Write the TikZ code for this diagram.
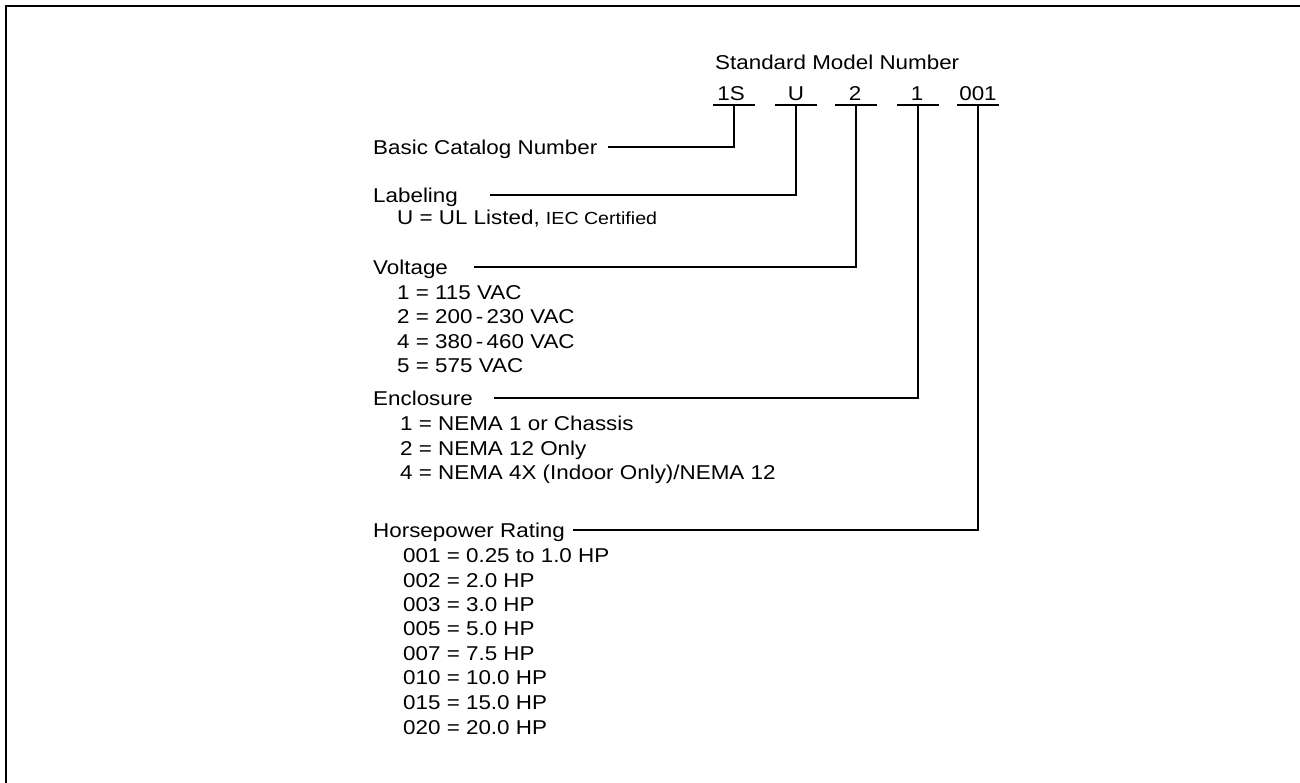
\documentclass[tikz,border=0pt]{standalone}
\usepackage{fontspec}
\setmainfont{Liberation Sans}[FakeStretch=1.12]
\begin{document}
\begin{tikzpicture}[x=1pt,y=-1pt,
  txt/.style={inner sep=0pt, anchor=west, text height=14.3pt, text depth=0pt,
    font=\fontsize{20}{24.5}\selectfont},
  code/.style={txt, anchor=center},
  conn/.style={line width=1.1pt},
  frame/.style={line width=2.2pt}]
\useasboundingbox (0,0) rectangle (1300,783);
% frame (open at right and bottom)
\draw[frame] (6,783) -- (6,6) -- (1300,6);

% header
\node[txt] (std) at (715,62) {Standard Model Number};
\node[code] (c1) at (731,93) {1S};
\node[code] (c2) at (796,93) {U};
\node[code] (c3) at (855,93) {2};
\node[code] (c4) at (917,93) {1};
\node[code] (c5) at (978,93) {001};

\coordinate (u1) at (734,105);
\coordinate (u2) at (796,105);
\coordinate (u3) at (856,105);
\coordinate (u4) at (918,105);
\coordinate (u5) at (978,105);
\foreach \u in {u1,u2,u3,u4,u5}
  \draw[conn] ([xshift=-21pt]\u) -- ([xshift=21pt]\u);

% fields
\node[txt] (bcn) at (373,147) {Basic Catalog Number};

\node[txt] (lab) at (373,195) {Labeling};
\node[txt] (lab1) at (397,217) {U = UL Listed, {\fontsize{17.5}{20}\selectfont IEC Certified}};

\node[txt] (volt) at (373,267) {Voltage};
\node[txt] (v1) at (397,292) {1 = 115 VAC};
\node[txt] (v2) at (397,316) {2 = 200\,-\,230 VAC};
\node[txt] (v3) at (397,341) {4 = 380\,-\,460 VAC};
\node[txt] (v4) at (397,365) {5 = 575 VAC};

\node[txt] (encl) at (373,398) {Enclosure};
\node[txt] (e1) at (400,423) {1 = NEMA 1 or Chassis};
\node[txt] (e2) at (400,448) {2 = NEMA 12 Only};
\node[txt] (e3) at (400,472) {4 = NEMA 4X (Indoor Only)/NEMA 12};

\node[txt] (hp) at (373,530) {Horsepower Rating};
\node[txt] (h1) at (403,555) {001 = 0.25 to 1.0 HP};
\node[txt] (h2) at (403,580) {002 = 2.0 HP};
\node[txt] (h3) at (403,604) {003 = 3.0 HP};
\node[txt] (h4) at (403,628) {005 = 5.0 HP};
\node[txt] (h5) at (403,653) {007 = 7.5 HP};
\node[txt] (h6) at (403,677) {010 = 10.0 HP};
\node[txt] (h7) at (403,702) {015 = 15.0 HP};
\node[txt] (h8) at (403,727) {020 = 20.0 HP};

% connectors
\draw[conn] (u1) |- ([xshift=10pt]bcn.east);
\draw[conn] (u2) |- ([xshift=32pt]lab.east);
\draw[conn] (u3) |- ([xshift=26pt]volt.east);
\draw[conn] (u4) |- ([xshift=21pt]encl.east);
\draw[conn] (u5) |- ([xshift=8pt]hp.east);
\end{tikzpicture}
\end{document}
